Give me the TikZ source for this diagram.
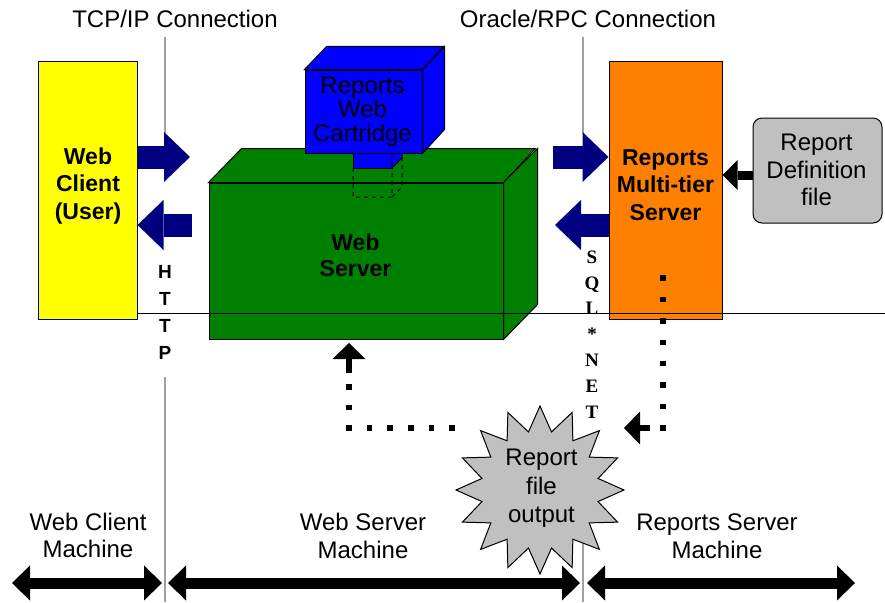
\documentclass[tikz,border=0pt]{standalone}
\usepackage{fontspec}
\setmainfont{Liberation Sans}
\newfontfamily\sqlserif{Liberation Serif}
\usetikzlibrary{arrows.meta,shapes.geometric}

\definecolor{navy}{RGB}{0,0,128}
\definecolor{wsgreen}{RGB}{0,128,0}
\definecolor{cartblue}{RGB}{0,0,255}
\definecolor{rmsorange}{RGB}{255,128,0}
\definecolor{lgrey}{RGB}{192,192,192}
\definecolor{clientyellow}{RGB}{255,255,0}
\definecolor{divgrey}{RGB}{160,160,160}

\tikzset{
  lbl/.style={font=\fontsize{24}{27.5}\selectfont, align=center, inner sep=0pt},
  blbl/.style={font=\bfseries\fontsize{23}{27.5}\selectfont, align=center, inner sep=0pt},
  face/.style={draw=black, line width=1pt, line join=miter},
  boxnode/.style={face, inner sep=0pt},
  divider/.style={draw=divgrey, line width=1.5pt},
  navyarrow/.style={draw=navy, line width=23pt,
    -{Triangle[width=50pt,length=26pt,line width=0pt 0 0]}},
  blackarrow/.style={draw=black, line width=9pt,
    -{Triangle[width=30pt,length=15pt,line width=0pt 0 0]}},
  smallarrow/.style={draw=black, line width=6pt,
    -{Triangle[width=33pt,length=16pt,line width=0pt 0 0]}},
  dots/.style={draw=black, line width=5.5pt, line cap=butt},
  span/.style={draw=black, line width=11pt,
    {Triangle[width=35pt,length=18pt,line width=0pt 0 0]}-{Triangle[width=35pt,length=18pt,line width=0pt 0 0]}},
}

\begin{document}
\begin{tikzpicture}[x=1pt,y=-1pt]
\useasboundingbox (0,0) rectangle (885,602);

% connection labels and their divider lines
\node[lbl] (tcp) at (175,19) {TCP/IP Connection};
\node[lbl] (rpc) at (588,19) {Oracle/RPC Connection};
\coordinate (tcpTop) at (165,37);
\coordinate (tcpMid) at (165,133);
\coordinate (tcpLow) at (165,377);
\coordinate (tcpEnd) at (165,602);
\coordinate (rpcTop) at (583,37);
\coordinate (rpcMid) at (583,133);
\coordinate (rpcLow) at (583,480);
\coordinate (rpcEnd) at (583,602);
\draw[divider] (tcpTop) -- (tcpMid);
\draw[divider] (tcpLow) -- (tcpEnd);
\draw[divider] (rpcTop) -- (rpcMid);
\draw[divider] (rpcLow) -- (rpcEnd);

% web client
\node[boxnode, draw=navy, fill=clientyellow, minimum width=99pt, minimum height=258pt] (client) at (87.5,190) {};
\node[blbl] (clienttext) at (88,186) {Web\\Client\\(User)};

% web server cube
\node[boxnode, fill=wsgreen, minimum width=294pt, minimum height=156pt] (server) at (356,261) {};
\draw[face, fill=wsgreen] (server.north west) -- ++(33,-34) -- ++(294,0) -- (server.north east) -- cycle;
\draw[face, fill=wsgreen] (server.north east) -- ++(34,-34) -- ++(0,156) -- (server.south east) -- cycle;
\node[blbl, font=\bfseries\fontsize{23}{26}\selectfont] (servertext) at (355.5,255) {Web\\Server};

% cartridge plug into the server
\draw[face, fill=cartblue] (353,148) rectangle (392,168);
\draw[face, fill=cartblue] (392,148) -- (402,138) -- (402,158) -- (392,168) -- cycle;

% reports web cartridge cube
\node[boxnode, fill=cartblue, minimum width=117pt, minimum height=83pt] (cart) at (363.5,111.5) {};
\draw[face, fill=cartblue] (cart.north west) -- ++(22,-23) -- ++(117,0) -- (cart.north east) -- cycle;
\draw[face, fill=cartblue] (cart.north east) -- ++(22,-23) -- ++(0,83) -- (cart.south east) -- cycle;
\node[lbl, font=\fontsize{24}{24}\selectfont] (carttext) at (362.5,112) {Reports\\Web\\Cartridge};

% hidden part of the plug
\draw[line width=1pt, dash pattern=on 4pt off 4pt]
  (353,168) -- (353,197) -- (392,197) -- (392,168)
  (392,197) -- (402,187) -- (402,158);

% reports multi-tier server
\node[boxnode, fill=rmsorange, minimum width=113pt, minimum height=258pt] (rms) at (665.5,190) {};
\node[blbl] (rmstext) at (665.5,185) {Reports\\Multi-tier\\Server};

% report definition file
\node[boxnode, fill=lgrey, rounded corners=9pt, minimum width=129pt, minimum height=105pt] (def) at (817.5,170.5) {};
\node[lbl] (deftext) at (816.5,170) {Report\\Definition\\file};

% machine boundary
\coordinate (edge) at (885,313);
\draw[line width=1pt] (client.east |- 0,313) -- (edge);

% HTTP traffic
\coordinate (reqEnd) at (190,157);
\coordinate (respStart) at (192,225);
\draw[navyarrow] (client.east |- 0,157) -- (reqEnd);
\draw[navyarrow] (respStart) -- (client.east |- 0,225);

% SQL*NET traffic
\coordinate (sqlStart) at (553,157);
\coordinate (sqlEnd) at (555,225);
\draw[navyarrow] (sqlStart) -- (rms.west |- 0,157);
\draw[navyarrow] (rms.west |- 0,225) -- (sqlEnd);

% definition read by the server
\draw[blackarrow] (def.west |- 0,175) -- (rms.east |- 0,175);

% protocol labels
\node[font=\bfseries\fontsize{19}{27}\selectfont, align=center, inner sep=0pt] (http) at (165,312.5) {H\\T\\T\\P};
\node[font=\sqlserif\bfseries\fontsize{19}{25.8}\selectfont, align=center, inner sep=0pt] (sqlnet) at (592,334.5) {S\\Q\\L\\*\\N\\E\\T};

% report output flow (dotted, square dots)
\coordinate (outA) at (663,275.25);
\coordinate (outB) at (663,430.75);
\coordinate (outShaft) at (650,428);
\coordinate (outTip) at (624,428);
\draw[dots, dash pattern=on 5.5pt off 15.9286pt] (outA) -- (outB);
\draw[smallarrow] (outShaft) -- (outTip);

\coordinate (inA) at (454.75,428);
\coordinate (inB) at (346.25,428);
\coordinate (inC) at (349,430.75);
\coordinate (inD) at (349,384);
\coordinate (inShaft) at (349,373);
\coordinate (inTip) at (349,343);
\draw[dots, dash pattern=on 5.5pt off 15.1pt] (inA) -- (inB);
\draw[dots, dash pattern=on 5.5pt off 15.1pt] (inC) -- (inD);
\draw[smallarrow] (inShaft) -- (inTip);

% report file output
\node[star, star points=16, star point ratio=1.42, minimum size=168pt, inner sep=0pt,
      draw=black, line width=1pt, fill=lgrey] (output) at (540,490) {};
\node[lbl, font=\fontsize{24}{28.5}\selectfont] (outputtext) at (541.5,488.5) {Report\\file\\output};

% machine labels
\node[lbl] (clientmach) at (88,535.5) {Web Client\\Machine};
\node[lbl] (servermach) at (363,536) {Web Server\\Machine};
\node[lbl] (rmsmach) at (717,536) {Reports Server\\Machine};

% machine extents
\coordinate (m1a) at (12,583);
\coordinate (m1b) at (162,583);
\coordinate (m2a) at (168,583);
\coordinate (m2b) at (580,583);
\coordinate (m3a) at (587,583);
\coordinate (m3b) at (855,583);
\draw[span] (m1a) -- (m1b);
\draw[span] (m2a) -- (m2b);
\draw[span] (m3a) -- (m3b);
\end{tikzpicture}
\end{document}
